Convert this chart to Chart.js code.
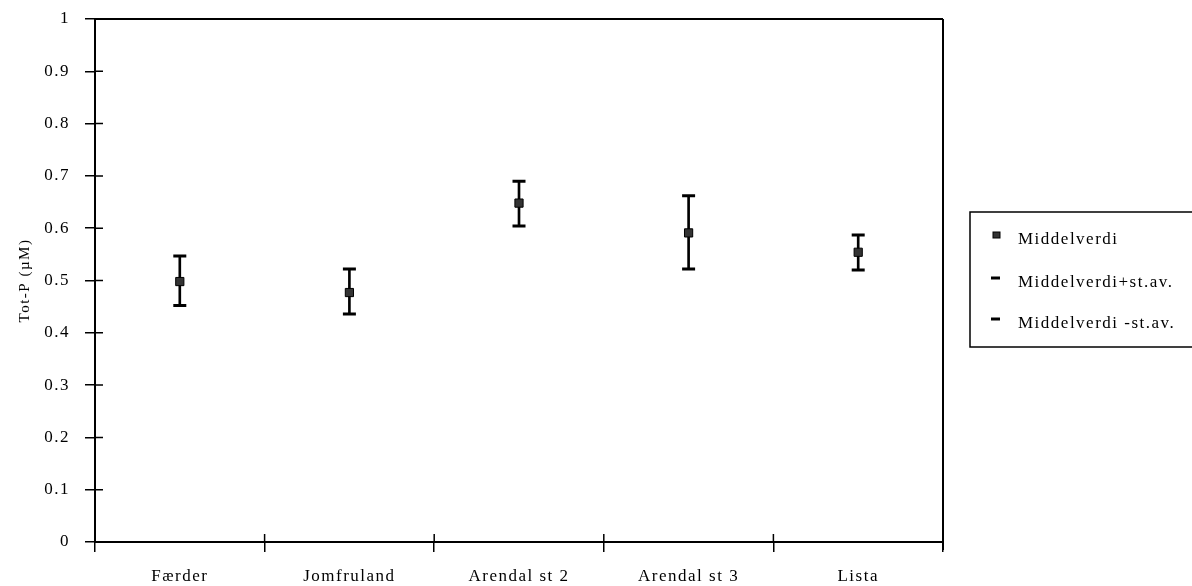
<!DOCTYPE html>
<html><head><meta charset="utf-8">
<script src="https://cdn.jsdelivr.net/npm/chart.js@4.4.1/dist/chart.umd.min.js"></script>
<style>html,body{margin:0;padding:0;background:#fff;overflow:hidden;}</style>
</head><body>
<canvas id="c" width="1192" height="586"></canvas>
<script>
const categories = ['Færder', 'Jomfruland', 'Arendal st 2', 'Arendal st 3', 'Lista'];
const meanValues = [0.498, 0.477, 0.648, 0.591, 0.554];
const plusSdValues = [0.547, 0.522, 0.690, 0.662, 0.587];
const minusSdValues = [0.452, 0.436, 0.604, 0.522, 0.520];
const seriesLabels = ['Middelverdi', 'Middelverdi+st.av.', 'Middelverdi -st.av.'];
const yAxisTitle = 'Tot-P (µM)';

const FONT = '"Liberation Serif", "Times New Roman", serif';
const SPACING = '1.5px';

const spacingPlugin = {
  id: 'spacing',
  beforeUpdate(chart) { chart.ctx.letterSpacing = SPACING; },
  beforeLayout(chart) { chart.ctx.letterSpacing = SPACING; },
  beforeDraw(chart) { chart.ctx.letterSpacing = SPACING; }
};

const framePlugin = {
  id: 'frame',
  afterDraw(chart) {
    const ctx = chart.ctx, a = chart.chartArea;
    const xs = chart.scales.x, ys = chart.scales.y;
    ctx.save();
    ctx.strokeStyle = '#000';
    ctx.lineWidth = 2;
    ctx.beginPath();
    ctx.moveTo(a.left, a.top); ctx.lineTo(a.right, a.top);
    ctx.moveTo(a.right, a.top); ctx.lineTo(a.right, a.bottom + 8);
    ctx.stroke();
    ctx.lineWidth = 1.5;
    ctx.beginPath();
    ys.ticks.forEach((t, i) => {
      const y = ys.getPixelForTick(i);
      ctx.moveTo(a.left, y); ctx.lineTo(a.left + 8, y);
    });
    for (let i = 0; i <= categories.length; i++) {
      const x = xs.getPixelForValue(i - 0.5);
      ctx.moveTo(x, a.bottom); ctx.lineTo(x, a.bottom - 8);
    }
    ctx.stroke();
    ctx.restore();
  }
};

const legendPlugin = {
  id: 'customLegend',
  afterDraw(chart) {
    const ctx = chart.ctx;
    ctx.save();
    ctx.letterSpacing = SPACING;
    ctx.strokeStyle = '#000';
    ctx.lineWidth = 1.5;
    ctx.strokeRect(970, 212, 300, 135);
    const baselines = [244, 287, 328];
    const markerY = [235, 278, 319];
    ctx.font = '17px ' + FONT;
    ctx.textBaseline = 'alphabetic';
    ctx.textAlign = 'left';
    const ds = chart.data.datasets;
    for (let i = 0; i < 3; i++) {
      if (i === 0) {
        ctx.fillStyle = '#333';
        ctx.fillRect(993, markerY[i] - 3, 7, 6);
        ctx.strokeStyle = '#000'; ctx.lineWidth = 1;
        ctx.strokeRect(993, markerY[i] - 3, 7, 6);
      } else {
        ctx.strokeStyle = '#000'; ctx.lineWidth = 3;
        ctx.beginPath();
        ctx.moveTo(991, markerY[i]); ctx.lineTo(1000, markerY[i]);
        ctx.stroke();
      }
      ctx.fillStyle = '#000';
      ctx.fillText(ds[i].label, 1018, baselines[i]);
    }
    ctx.restore();
  }
};

new Chart(document.getElementById('c'), {
  type: 'bar',
  data: {
    labels: categories,
    datasets: [
      { type: 'line', label: seriesLabels[0], data: meanValues, showLine: false,
        pointStyle: 'rect', pointRadius: 5.8, pointBackgroundColor: '#333',
        pointBorderColor: '#000', pointBorderWidth: 1, order: 1 },
      { type: 'line', label: seriesLabels[1], data: plusSdValues, showLine: false,
        pointStyle: 'line', pointRadius: 6.5, pointBorderWidth: 3,
        pointBorderColor: '#000', order: 2 },
      { type: 'line', label: seriesLabels[2], data: minusSdValues, showLine: false,
        pointStyle: 'line', pointRadius: 6.5, pointBorderWidth: 3,
        pointBorderColor: '#000', order: 3 },
      { type: 'bar', label: 'err', data: categories.map((c, i) => [minusSdValues[i], plusSdValues[i]]),
        backgroundColor: '#000', borderWidth: 0, barThickness: 2, order: 10 }
    ]
  },
  options: {
    responsive: false,
    animation: false,
    devicePixelRatio: 1,
    layout: { padding: { left: 0, top: 19, right: 249, bottom: 0 } },
    plugins: { legend: { display: false }, tooltip: { enabled: false } },
    scales: {
      x: {
        offset: true,
        grid: { offset: true, drawOnChartArea: false, drawTicks: true, tickLength: 10, color: '#000', lineWidth: 1.5 },
        border: { display: true, color: '#000', width: 2 },
        ticks: { color: '#000', padding: 14, font: { family: FONT, size: 17 }, maxRotation: 0 },
        afterFit(s) { s.height = 44; s.paddingLeft = 0; s.paddingRight = 0; }
      },
      y: {
        min: 0, max: 1,
        grid: { drawOnChartArea: false, drawTicks: true, tickLength: 10, color: '#000', lineWidth: 1.5 },
        border: { display: true, color: '#000', width: 2 },
        ticks: { stepSize: 0.1, color: '#000', padding: 15, font: { family: FONT, size: 17 },
          callback: v => String(+v.toFixed(1)) },
        title: { display: true, text: yAxisTitle, color: '#000', font: { family: FONT, size: 15 }, padding: { top: 16, bottom: 0 } },
        afterFit(s) { s.width = 95; s.paddingTop = 0; s.paddingBottom = 0; }
      }
    }
  },
  plugins: [spacingPlugin, framePlugin, legendPlugin]
});
</script>
</body></html>
